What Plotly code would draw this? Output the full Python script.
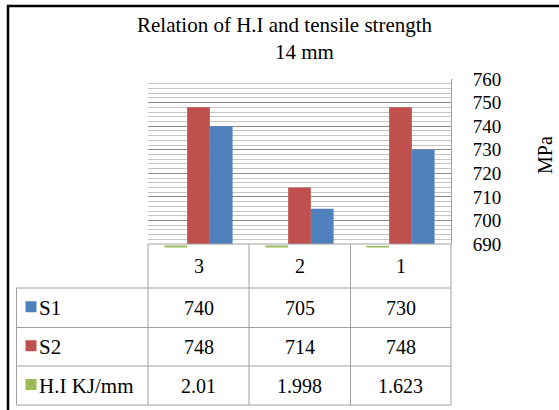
import plotly.graph_objects as go

# ---- data ----
categories = ["3", "2", "1"]
s1_values = [740, 705, 730]
s2_values = [748, 714, 748]
hi_values = [2.01, 1.998, 1.623]
hi_labels = ["2.01", "1.998", "1.623"]
series_names = ["S1", "S2", "H.I KJ/mm"]
y_ticks = [690, 700, 710, 720, 730, 740, 750, 760]

# ---- style ----
C_S1 = "#4F81BD"
C_S2 = "#C0504D"
C_HI = "#9BBB59"
FONT = "Liberation Serif, Times New Roman, serif"
FS = 20
GRID_MAJOR = "#8c8c8c"
GRID_MINOR = "#c4c4c4"
TABLE_LINE = "#a0a0a0"

W, H = 559, 410
L, R, T, B = 148, 451, 79, 248  # plot area in pixels
PW, PH = R - L, B - T
Y690 = 244  # pixel of axis bottom (690)


def px(x):
    return (x - L) / PW


def py(y):
    return (B - y) / PH


bar_w = 0.225
fig = go.Figure()
fig.add_trace(go.Bar(x=categories, y=hi_values, name=series_names[2], marker_color=C_HI,
                     width=bar_w, offset=-0.3375, xaxis="x", yaxis="y2"))
fig.add_trace(go.Bar(x=categories, y=s2_values, name=series_names[1], marker_color=C_S2,
                     width=bar_w, offset=-0.1125, xaxis="x", yaxis="y"))
fig.add_trace(go.Bar(x=categories, y=s1_values, name=series_names[0], marker_color=C_S1,
                     width=bar_w, offset=0.1125, xaxis="x", yaxis="y"))

shapes = []
ann = []

# outer black frame (left and top)
shapes.append(dict(type="line", xref="paper", yref="paper", x0=px(8), x1=px(8), y0=py(5), y1=py(412),
                   line=dict(color="black", width=2.5)))
shapes.append(dict(type="line", xref="paper", yref="paper", x0=px(7), x1=px(562), y0=py(6), y1=py(6),
                   line=dict(color="black", width=2.5)))

# data table grid
col_x = [L, 249, 350.5, R]
row_y = [Y690, 288, 327.5, 366, 405]
tl = dict(color=TABLE_LINE, width=1)
shapes.append(dict(type="line", xref="paper", yref="paper", x0=px(L), x1=px(R), y0=py(row_y[0]), y1=py(row_y[0]), line=tl))
for yy in row_y[1:]:
    shapes.append(dict(type="line", xref="paper", yref="paper", x0=px(16.5), x1=px(R), y0=py(yy), y1=py(yy), line=tl))
for xx in col_x:
    shapes.append(dict(type="line", xref="paper", yref="paper", x0=px(xx), x1=px(xx), y0=py(row_y[0]), y1=py(row_y[-1]), line=tl))
shapes.append(dict(type="line", xref="paper", yref="paper", x0=px(16.5), x1=px(16.5), y0=py(row_y[1]), y1=py(row_y[-1]), line=tl))

col_centers = [(col_x[i] + col_x[i + 1]) / 2 for i in range(3)]
row_centers = [(row_y[i] + row_y[i + 1]) / 2 for i in range(4)]

tfont = dict(family=FONT, size=FS, color="black")
lfont = dict(family=FONT, size=21, color="black")
for c, cx in zip(categories, col_centers):
    ann.append(dict(x=px(cx), y=py(row_centers[0]), xref="paper", yref="paper", text=c,
                    showarrow=False, font=tfont, xanchor="center", yanchor="middle"))

rows = [(series_names[0], C_S1, [str(v) for v in s1_values]),
        (series_names[1], C_S2, [str(v) for v in s2_values]),
        (series_names[2], C_HI, hi_labels)]
for i, (name, col, vals) in enumerate(rows):
    cy = row_centers[i + 1]
    shapes.append(dict(type="rect", xref="paper", yref="paper", x0=px(25.5), x1=px(36.5),
                       y0=py(cy - 6.5), y1=py(cy + 4.5), fillcolor=col, line=dict(width=0)))
    ann.append(dict(x=px(37), y=py(cy), xref="paper", yref="paper", text=name, showarrow=False,
                    font=lfont, xanchor="left", yanchor="middle"))
    for v, cx in zip(vals, col_centers):
        ann.append(dict(x=px(cx), y=py(cy), xref="paper", yref="paper", text=v, showarrow=False,
                        font=tfont, xanchor="center", yanchor="middle"))

# titles
ann.append(dict(x=px(285), y=py(25), xref="paper", yref="paper", text="Relation of H.I and tensile strength",
                showarrow=False, font=lfont, xanchor="center", yanchor="middle"))
ann.append(dict(x=px(304), y=py(52), xref="paper", yref="paper", text="14 mm",
                showarrow=False, font=lfont, xanchor="center", yanchor="middle"))
# axis title
ann.append(dict(x=px(545), y=py(155), xref="paper", yref="paper", text="MPa", textangle=-90,
                showarrow=False, font=tfont, xanchor="center", yanchor="middle"))

fig.update_layout(
    template="none",
    width=W, height=H,
    margin=dict(l=L, r=W - R, t=T, b=H - B, pad=0, autoexpand=False),
    paper_bgcolor="white", plot_bgcolor="white",
    showlegend=False,
    hovermode=False,
    barmode="group",
    xaxis=dict(type="category", categoryorder="array", categoryarray=categories, range=[-0.5, 2.5],
               showticklabels=False, showgrid=False, zeroline=False, showline=False, ticks="",
               anchor="y"),
    yaxis=dict(domain=[py(Y690), 1], range=[690, 760], side="right", tickvals=y_ticks,
               ticktext=[str(v) for v in y_ticks], ticks="", ticklabelstandoff=17,
               tickfont=dict(family=FONT, size=19, color="black"),
               showgrid=True, gridcolor=GRID_MAJOR, gridwidth=1, zeroline=False,
               showline=True, linecolor=TABLE_LINE, linewidth=1,
               minor=dict(dtick=2, tick0=690, showgrid=True, gridcolor=GRID_MINOR, gridwidth=1, ticks=""),
               automargin=False),
    yaxis2=dict(domain=[0, py(Y690)], range=[-0.5, 3.5], visible=False, showgrid=False, zeroline=False,
                anchor="x"),
    shapes=shapes,
    annotations=ann,
    font=dict(family=FONT, size=FS, color="black"),
)

fig.write_html("out.html", config={"displayModeBar": False, "staticPlot": True},
               post_script="document.body.style.margin='0px';")
